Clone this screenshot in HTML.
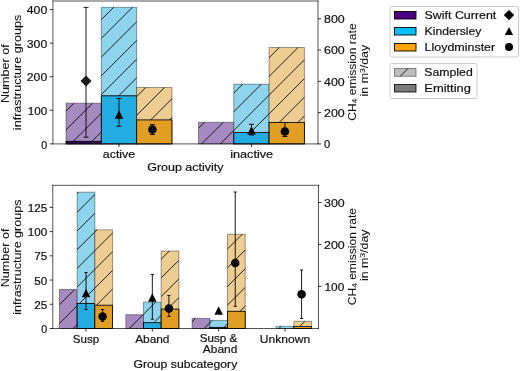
<!DOCTYPE html>
<html><head><meta charset="utf-8"><style>
html,body{margin:0;padding:0;background:#fff;}
svg{display:block;will-change:transform;}
text{font-family:"Liberation Sans",sans-serif;font-size:11.3px;fill:#111;stroke:#111;stroke-width:0.2px;}
text.r{stroke-width:0.05px;}
</style></head><body>
<svg width="520" height="371" viewBox="0 0 520 371">
<defs><clipPath id="c1"><rect x="66.05" y="103.20" width="35.30" height="40.70"/></clipPath><clipPath id="c2"><rect x="101.35" y="7.30" width="35.30" height="136.60"/></clipPath><clipPath id="c3"><rect x="136.65" y="87.50" width="35.30" height="56.40"/></clipPath><clipPath id="c4"><rect x="198.50" y="122.30" width="35.30" height="21.60"/></clipPath><clipPath id="c5"><rect x="233.80" y="84.20" width="35.30" height="59.70"/></clipPath><clipPath id="c6"><rect x="269.10" y="47.50" width="35.30" height="96.40"/></clipPath><clipPath id="c7"><rect x="59.47" y="289.50" width="17.69" height="39.00"/></clipPath><clipPath id="c8"><rect x="77.16" y="192.20" width="17.69" height="136.30"/></clipPath><clipPath id="c9"><rect x="94.84" y="229.80" width="17.69" height="98.70"/></clipPath><clipPath id="c10"><rect x="125.80" y="314.70" width="17.69" height="13.80"/></clipPath><clipPath id="c11"><rect x="143.49" y="302.20" width="17.69" height="26.30"/></clipPath><clipPath id="c12"><rect x="161.17" y="251.00" width="17.69" height="77.50"/></clipPath><clipPath id="c13"><rect x="192.13" y="318.40" width="17.69" height="10.10"/></clipPath><clipPath id="c14"><rect x="209.82" y="320.40" width="17.69" height="8.10"/></clipPath><clipPath id="c15"><rect x="227.50" y="234.30" width="17.69" height="94.20"/></clipPath><clipPath id="c16"><rect x="276.15" y="326.30" width="17.69" height="2.20"/></clipPath><clipPath id="c17"><rect x="293.83" y="321.30" width="17.69" height="7.20"/></clipPath><clipPath id="c18"><rect x="394.50" y="68.50" width="21.50" height="7.80"/></clipPath></defs>
<rect width="520" height="371" fill="#fff"/>
<rect x="66.05" y="103.20" width="35.30" height="40.70" fill="#a68bc0"/><path d="M30.23 146.90L76.93 100.20M48.94 146.90L95.64 100.20M67.65 146.90L114.35 100.20M86.36 146.90L133.06 100.20" stroke="#000" stroke-width="1.0" stroke-opacity="0.85" fill="none" clip-path="url(#c1)"/><rect x="66.05" y="103.20" width="35.30" height="40.70" fill="none" stroke="rgba(0,0,0,0.38)" stroke-width="1"/><rect x="66.05" y="141.30" width="35.30" height="2.60" fill="#3a0868" stroke="#000" stroke-width="0.85"/><rect x="101.35" y="7.30" width="35.30" height="136.60" fill="#8dd4ec"/><path d="M-25.90 146.90L116.70 4.30M-7.19 146.90L135.41 4.30M11.52 146.90L154.12 4.30M30.23 146.90L172.83 4.30M48.94 146.90L191.54 4.30M67.65 146.90L210.25 4.30M86.36 146.90L228.96 4.30M105.07 146.90L247.67 4.30M123.78 146.90L266.38 4.30" stroke="#000" stroke-width="1.0" stroke-opacity="0.85" fill="none" clip-path="url(#c2)"/><rect x="101.35" y="7.30" width="35.30" height="136.60" fill="none" stroke="rgba(0,0,0,0.38)" stroke-width="1"/><rect x="101.35" y="95.80" width="35.30" height="48.10" fill="#22acdf" stroke="#000" stroke-width="0.85"/><rect x="136.65" y="87.50" width="35.30" height="56.40" fill="#eecd93"/><path d="M86.36 146.90L148.76 84.50M105.07 146.90L167.47 84.50M123.78 146.90L186.18 84.50M142.49 146.90L204.89 84.50M161.20 146.90L223.60 84.50" stroke="#000" stroke-width="1.0" stroke-opacity="0.85" fill="none" clip-path="url(#c3)"/><rect x="136.65" y="87.50" width="35.30" height="56.40" fill="none" stroke="rgba(0,0,0,0.38)" stroke-width="1"/><rect x="136.65" y="119.90" width="35.30" height="24.00" fill="#e09f24" stroke="#000" stroke-width="0.85"/><rect x="198.50" y="122.30" width="35.30" height="21.60" fill="#a68bc0"/><path d="M179.91 146.90L207.51 119.30M198.62 146.90L226.22 119.30M217.33 146.90L244.93 119.30" stroke="#000" stroke-width="1.0" stroke-opacity="0.85" fill="none" clip-path="url(#c4)"/><rect x="198.50" y="122.30" width="35.30" height="21.60" fill="none" stroke="rgba(0,0,0,0.38)" stroke-width="1"/><rect x="233.80" y="84.20" width="35.30" height="59.70" fill="#8dd4ec"/><path d="M179.91 146.90L245.61 81.20M198.62 146.90L264.32 81.20M217.33 146.90L283.03 81.20M236.04 146.90L301.74 81.20M254.75 146.90L320.45 81.20" stroke="#000" stroke-width="1.0" stroke-opacity="0.85" fill="none" clip-path="url(#c5)"/><rect x="233.80" y="84.20" width="35.30" height="59.70" fill="none" stroke="rgba(0,0,0,0.38)" stroke-width="1"/><rect x="233.80" y="132.50" width="35.30" height="11.40" fill="#22acdf" stroke="#000" stroke-width="0.85"/><rect x="269.10" y="47.50" width="35.30" height="96.40" fill="#eecd93"/><path d="M179.91 146.90L282.31 44.50M198.62 146.90L301.02 44.50M217.33 146.90L319.73 44.50M236.04 146.90L338.44 44.50M254.75 146.90L357.15 44.50M273.46 146.90L375.86 44.50M292.17 146.90L394.57 44.50" stroke="#000" stroke-width="1.0" stroke-opacity="0.85" fill="none" clip-path="url(#c6)"/><rect x="269.10" y="47.50" width="35.30" height="96.40" fill="none" stroke="rgba(0,0,0,0.38)" stroke-width="1"/><rect x="269.10" y="122.40" width="35.30" height="21.50" fill="#e09f24" stroke="#000" stroke-width="0.85"/><line x1="86.00" y1="7.40" x2="86.00" y2="137.20" stroke="#000" stroke-width="0.9"/><line x1="83.50" y1="7.40" x2="88.50" y2="7.40" stroke="#000" stroke-width="0.9"/><line x1="83.50" y1="137.20" x2="88.50" y2="137.20" stroke="#000" stroke-width="0.9"/><path d="M86.00 75.50L91.50 81.00L86.00 86.50L80.50 81.00Z" fill="#1a1a1a"/><line x1="119.00" y1="98.50" x2="119.00" y2="126.30" stroke="#000" stroke-width="0.9"/><line x1="116.50" y1="98.50" x2="121.50" y2="98.50" stroke="#000" stroke-width="0.9"/><line x1="116.50" y1="126.30" x2="121.50" y2="126.30" stroke="#000" stroke-width="0.9"/><path d="M119.00 110.25L123.25 118.75L114.75 118.75Z" fill="#000"/><line x1="152.40" y1="124.50" x2="152.40" y2="134.50" stroke="#000" stroke-width="0.9"/><line x1="149.90" y1="124.50" x2="154.90" y2="124.50" stroke="#000" stroke-width="0.9"/><line x1="149.90" y1="134.50" x2="154.90" y2="134.50" stroke="#000" stroke-width="0.9"/><circle cx="152.40" cy="129.50" r="4.25" fill="#000"/><line x1="251.50" y1="124.30" x2="251.50" y2="135.00" stroke="#000" stroke-width="0.9"/><line x1="249.00" y1="124.30" x2="254.00" y2="124.30" stroke="#000" stroke-width="0.9"/><line x1="249.00" y1="135.00" x2="254.00" y2="135.00" stroke="#000" stroke-width="0.9"/><path d="M251.50 126.05L255.75 134.55L247.25 134.55Z" fill="#000"/><line x1="284.90" y1="122.50" x2="284.90" y2="136.50" stroke="#000" stroke-width="0.9"/><line x1="282.40" y1="122.50" x2="287.40" y2="122.50" stroke="#000" stroke-width="0.9"/><line x1="282.40" y1="136.50" x2="287.40" y2="136.50" stroke="#000" stroke-width="0.9"/><circle cx="284.90" cy="131.50" r="4.25" fill="#000"/><path d="M52.90 0.60V144.30M318.00 0.60V144.30M52.50 1.00H318.40M52.50 143.90H318.40" stroke="#000" stroke-opacity="0.85" stroke-width="0.8" fill="none"/><line x1="49.90" y1="143.90" x2="52.90" y2="143.90" stroke="#000" stroke-width="0.8"/><text x="41.30" y="148.50" textLength="5.91" lengthAdjust="spacingAndGlyphs">0</text><line x1="49.90" y1="110.30" x2="52.90" y2="110.30" stroke="#000" stroke-width="0.8"/><text x="27.70" y="114.90" textLength="19.48" lengthAdjust="spacingAndGlyphs">100</text><line x1="49.90" y1="76.70" x2="52.90" y2="76.70" stroke="#000" stroke-width="0.8"/><text x="26.80" y="81.30" textLength="20.38" lengthAdjust="spacingAndGlyphs">200</text><line x1="49.90" y1="43.10" x2="52.90" y2="43.10" stroke="#000" stroke-width="0.8"/><text x="26.80" y="47.70" textLength="20.38" lengthAdjust="spacingAndGlyphs">300</text><line x1="49.90" y1="9.50" x2="52.90" y2="9.50" stroke="#000" stroke-width="0.8"/><text x="26.80" y="14.10" textLength="20.38" lengthAdjust="spacingAndGlyphs">400</text><line x1="318.00" y1="143.90" x2="321.00" y2="143.90" stroke="#000" stroke-width="0.8"/><text x="324.10" y="148.10" textLength="6.21" lengthAdjust="spacingAndGlyphs">0</text><line x1="318.00" y1="112.61" x2="321.00" y2="112.61" stroke="#000" stroke-width="0.8"/><text x="324.10" y="116.81" textLength="20.68" lengthAdjust="spacingAndGlyphs">200</text><line x1="318.00" y1="81.33" x2="321.00" y2="81.33" stroke="#000" stroke-width="0.8"/><text x="324.10" y="85.53" textLength="20.68" lengthAdjust="spacingAndGlyphs">400</text><line x1="318.00" y1="50.04" x2="321.00" y2="50.04" stroke="#000" stroke-width="0.8"/><text x="324.10" y="54.24" textLength="20.68" lengthAdjust="spacingAndGlyphs">600</text><line x1="318.00" y1="18.75" x2="321.00" y2="18.75" stroke="#000" stroke-width="0.8"/><text x="324.10" y="22.95" textLength="20.68" lengthAdjust="spacingAndGlyphs">800</text><line x1="119.00" y1="143.90" x2="119.00" y2="146.90" stroke="#000" stroke-width="0.8"/><line x1="251.45" y1="143.90" x2="251.45" y2="146.90" stroke="#000" stroke-width="0.8"/><text x="119.00" y="157.80" text-anchor="middle" textLength="32.23" lengthAdjust="spacingAndGlyphs">active</text><text x="251.65" y="157.80" text-anchor="middle" textLength="43.01" lengthAdjust="spacingAndGlyphs">inactive</text><text x="185.30" y="171.20" text-anchor="middle" textLength="76.18" lengthAdjust="spacingAndGlyphs">Group activity</text><text transform="translate(8.50,73.60) rotate(-90)" class="r" x="0" y="0" text-anchor="middle" textLength="58.78" lengthAdjust="spacingAndGlyphs">Number of</text><text transform="translate(21.00,72.50) rotate(-90)" class="r" x="0" y="0" text-anchor="middle" textLength="115.31" lengthAdjust="spacingAndGlyphs">infrastructure groups</text><text transform="translate(355.80,72.05) rotate(-90)" class="r" text-anchor="middle" textLength="97.4" lengthAdjust="spacingAndGlyphs">CH<tspan font-size="7.8" dy="1.6">4</tspan><tspan dy="-1.6"> emission rate</tspan></text><text transform="translate(368.40,70.65) rotate(-90)" class="r" text-anchor="middle" textLength="51.6" lengthAdjust="spacingAndGlyphs">in m<tspan font-size="7.8" dy="-3.6">3</tspan><tspan dy="3.6">/day</tspan></text><rect x="59.47" y="289.50" width="17.69" height="39.00" fill="#a68bc0"/><path d="M32.73 331.50L77.73 286.50M51.44 331.50L96.44 286.50M70.15 331.50L115.15 286.50" stroke="#000" stroke-width="1.0" stroke-opacity="0.85" fill="none" clip-path="url(#c7)"/><rect x="59.47" y="289.50" width="17.69" height="39.00" fill="none" stroke="rgba(0,0,0,0.38)" stroke-width="1"/><rect x="77.16" y="192.20" width="17.69" height="136.30" fill="#8dd4ec"/><path d="M-60.82 331.50L81.48 189.20M-42.11 331.50L100.19 189.20M-23.40 331.50L118.90 189.20M-4.69 331.50L137.61 189.20M14.02 331.50L156.32 189.20M32.73 331.50L175.03 189.20M51.44 331.50L193.74 189.20M70.15 331.50L212.45 189.20M88.86 331.50L231.16 189.20" stroke="#000" stroke-width="1.0" stroke-opacity="0.85" fill="none" clip-path="url(#c8)"/><rect x="77.16" y="192.20" width="17.69" height="136.30" fill="none" stroke="rgba(0,0,0,0.38)" stroke-width="1"/><rect x="77.16" y="303.40" width="17.69" height="25.10" fill="#22acdf" stroke="#000" stroke-width="0.85"/><rect x="94.84" y="229.80" width="17.69" height="98.70" fill="#eecd93"/><path d="M-4.69 331.50L100.01 226.80M14.02 331.50L118.72 226.80M32.73 331.50L137.43 226.80M51.44 331.50L156.14 226.80M70.15 331.50L174.85 226.80M88.86 331.50L193.56 226.80M107.57 331.50L212.27 226.80" stroke="#000" stroke-width="1.0" stroke-opacity="0.85" fill="none" clip-path="url(#c9)"/><rect x="94.84" y="229.80" width="17.69" height="98.70" fill="none" stroke="rgba(0,0,0,0.38)" stroke-width="1"/><rect x="94.84" y="305.20" width="17.69" height="23.30" fill="#e09f24" stroke="#000" stroke-width="0.85"/><rect x="125.80" y="314.70" width="17.69" height="13.80" fill="#a68bc0"/><path d="M107.57 331.50L127.37 311.70M126.28 331.50L146.08 311.70" stroke="#000" stroke-width="1.0" stroke-opacity="0.85" fill="none" clip-path="url(#c10)"/><rect x="125.80" y="314.70" width="17.69" height="13.80" fill="none" stroke="rgba(0,0,0,0.38)" stroke-width="1"/><rect x="143.49" y="302.20" width="17.69" height="26.30" fill="#8dd4ec"/><path d="M126.28 331.50L158.58 299.20M144.99 331.50L177.29 299.20" stroke="#000" stroke-width="1.0" stroke-opacity="0.85" fill="none" clip-path="url(#c11)"/><rect x="143.49" y="302.20" width="17.69" height="26.30" fill="none" stroke="rgba(0,0,0,0.38)" stroke-width="1"/><rect x="143.49" y="322.70" width="17.69" height="5.80" fill="#22acdf" stroke="#000" stroke-width="0.85"/><rect x="161.17" y="251.00" width="17.69" height="77.50" fill="#eecd93"/><path d="M88.86 331.50L172.36 248.00M107.57 331.50L191.07 248.00M126.28 331.50L209.78 248.00M144.99 331.50L228.49 248.00M163.70 331.50L247.20 248.00" stroke="#000" stroke-width="1.0" stroke-opacity="0.85" fill="none" clip-path="url(#c12)"/><rect x="161.17" y="251.00" width="17.69" height="77.50" fill="none" stroke="rgba(0,0,0,0.38)" stroke-width="1"/><rect x="161.17" y="309.10" width="17.69" height="19.40" fill="#e09f24" stroke="#000" stroke-width="0.85"/><rect x="192.13" y="318.40" width="17.69" height="10.10" fill="#a68bc0"/><path d="M182.41 331.50L198.51 315.40M201.12 331.50L217.22 315.40" stroke="#000" stroke-width="1.0" stroke-opacity="0.85" fill="none" clip-path="url(#c13)"/><rect x="192.13" y="318.40" width="17.69" height="10.10" fill="none" stroke="rgba(0,0,0,0.38)" stroke-width="1"/><rect x="209.82" y="320.40" width="17.69" height="8.10" fill="#8dd4ec"/><path d="M201.12 331.50L215.22 317.40M219.83 331.50L233.93 317.40" stroke="#000" stroke-width="1.0" stroke-opacity="0.85" fill="none" clip-path="url(#c14)"/><rect x="209.82" y="320.40" width="17.69" height="8.10" fill="none" stroke="rgba(0,0,0,0.38)" stroke-width="1"/><rect x="209.82" y="327.40" width="17.69" height="1.10" fill="#22acdf" stroke="#000" stroke-width="0.85"/><rect x="227.50" y="234.30" width="17.69" height="94.20" fill="#eecd93"/><path d="M144.99 331.50L245.19 231.30M163.70 331.50L263.90 231.30M182.41 331.50L282.61 231.30M201.12 331.50L301.32 231.30M219.83 331.50L320.03 231.30M238.54 331.50L338.74 231.30" stroke="#000" stroke-width="1.0" stroke-opacity="0.85" fill="none" clip-path="url(#c15)"/><rect x="227.50" y="234.30" width="17.69" height="94.20" fill="none" stroke="rgba(0,0,0,0.38)" stroke-width="1"/><rect x="227.50" y="311.30" width="17.69" height="17.20" fill="#e09f24" stroke="#000" stroke-width="0.85"/><rect x="276.15" y="326.30" width="17.69" height="2.20" fill="#8dd4ec"/><path d="M275.96 331.50L284.16 323.30" stroke="#000" stroke-width="1.0" stroke-opacity="0.85" fill="none" clip-path="url(#c16)"/><rect x="276.15" y="326.30" width="17.69" height="2.20" fill="none" stroke="rgba(0,0,0,0.38)" stroke-width="1"/><rect x="293.83" y="321.30" width="17.69" height="7.20" fill="#eecd93"/><path d="M294.67 331.50L307.87 318.30" stroke="#000" stroke-width="1.0" stroke-opacity="0.85" fill="none" clip-path="url(#c17)"/><rect x="293.83" y="321.30" width="17.69" height="7.20" fill="none" stroke="rgba(0,0,0,0.38)" stroke-width="1"/><rect x="293.83" y="326.50" width="17.69" height="2.00" fill="#e09f24" stroke="#000" stroke-width="0.85"/><line x1="86.00" y1="272.50" x2="86.00" y2="309.50" stroke="#000" stroke-width="0.9"/><line x1="84.40" y1="272.50" x2="87.60" y2="272.50" stroke="#000" stroke-width="0.9"/><line x1="84.40" y1="309.50" x2="87.60" y2="309.50" stroke="#000" stroke-width="0.9"/><path d="M86.00 288.65L90.25 297.15L81.75 297.15Z" fill="#000"/><line x1="102.58" y1="309.50" x2="102.58" y2="321.50" stroke="#000" stroke-width="0.9"/><line x1="100.98" y1="309.50" x2="104.18" y2="309.50" stroke="#000" stroke-width="0.9"/><line x1="100.98" y1="321.50" x2="104.18" y2="321.50" stroke="#000" stroke-width="0.9"/><circle cx="102.58" cy="316.50" r="4.25" fill="#000"/><line x1="152.33" y1="274.50" x2="152.33" y2="319.20" stroke="#000" stroke-width="0.9"/><line x1="150.73" y1="274.50" x2="153.93" y2="274.50" stroke="#000" stroke-width="0.9"/><line x1="150.73" y1="319.20" x2="153.93" y2="319.20" stroke="#000" stroke-width="0.9"/><path d="M152.33 293.25L156.58 301.75L148.08 301.75Z" fill="#000"/><line x1="168.91" y1="295.50" x2="168.91" y2="316.50" stroke="#000" stroke-width="0.9"/><line x1="167.31" y1="295.50" x2="170.51" y2="295.50" stroke="#000" stroke-width="0.9"/><line x1="167.31" y1="316.50" x2="170.51" y2="316.50" stroke="#000" stroke-width="0.9"/><circle cx="168.91" cy="308.40" r="4.25" fill="#000"/><path d="M218.66 306.35L222.91 314.85L214.41 314.85Z" fill="#000"/><line x1="235.24" y1="192.00" x2="235.24" y2="306.30" stroke="#000" stroke-width="0.9"/><line x1="233.64" y1="192.00" x2="236.84" y2="192.00" stroke="#000" stroke-width="0.9"/><line x1="233.64" y1="306.30" x2="236.84" y2="306.30" stroke="#000" stroke-width="0.9"/><circle cx="235.24" cy="263.00" r="4.25" fill="#000"/><line x1="301.57" y1="270.00" x2="301.57" y2="318.50" stroke="#000" stroke-width="0.9"/><line x1="299.97" y1="270.00" x2="303.17" y2="270.00" stroke="#000" stroke-width="0.9"/><line x1="299.97" y1="318.50" x2="303.17" y2="318.50" stroke="#000" stroke-width="0.9"/><circle cx="301.57" cy="294.30" r="4.25" fill="#000"/><path d="M52.75 184.90V328.90M318.50 184.90V328.90M52.35 185.30H318.90M52.35 328.50H318.90" stroke="#000" stroke-opacity="0.85" stroke-width="0.8" fill="none"/><line x1="49.75" y1="328.50" x2="52.75" y2="328.50" stroke="#000" stroke-width="0.8"/><text x="41.30" y="333.10" textLength="5.91" lengthAdjust="spacingAndGlyphs">0</text><line x1="49.75" y1="304.28" x2="52.75" y2="304.28" stroke="#000" stroke-width="0.8"/><text x="34.20" y="308.88" textLength="13.03" lengthAdjust="spacingAndGlyphs">25</text><line x1="49.75" y1="280.06" x2="52.75" y2="280.06" stroke="#000" stroke-width="0.8"/><text x="34.20" y="284.66" textLength="13.03" lengthAdjust="spacingAndGlyphs">50</text><line x1="49.75" y1="255.84" x2="52.75" y2="255.84" stroke="#000" stroke-width="0.8"/><text x="34.20" y="260.44" textLength="13.03" lengthAdjust="spacingAndGlyphs">75</text><line x1="49.75" y1="231.62" x2="52.75" y2="231.62" stroke="#000" stroke-width="0.8"/><text x="27.70" y="236.22" textLength="19.48" lengthAdjust="spacingAndGlyphs">100</text><line x1="49.75" y1="207.40" x2="52.75" y2="207.40" stroke="#000" stroke-width="0.8"/><text x="27.70" y="212.00" textLength="19.48" lengthAdjust="spacingAndGlyphs">125</text><line x1="318.50" y1="286.40" x2="321.50" y2="286.40" stroke="#000" stroke-width="0.8"/><text x="324.50" y="290.60" textLength="19.78" lengthAdjust="spacingAndGlyphs">100</text><line x1="318.50" y1="244.45" x2="321.50" y2="244.45" stroke="#000" stroke-width="0.8"/><text x="324.10" y="248.65" textLength="20.68" lengthAdjust="spacingAndGlyphs">200</text><line x1="318.50" y1="202.50" x2="321.50" y2="202.50" stroke="#000" stroke-width="0.8"/><text x="324.10" y="206.70" textLength="20.68" lengthAdjust="spacingAndGlyphs">300</text><line x1="86.00" y1="328.50" x2="86.00" y2="331.50" stroke="#000" stroke-width="0.8"/><line x1="152.33" y1="328.50" x2="152.33" y2="331.50" stroke="#000" stroke-width="0.8"/><line x1="218.66" y1="328.50" x2="218.66" y2="331.50" stroke="#000" stroke-width="0.8"/><line x1="284.99" y1="328.50" x2="284.99" y2="331.50" stroke="#000" stroke-width="0.8"/><text x="86.00" y="342.50" text-anchor="middle" textLength="26.29" lengthAdjust="spacingAndGlyphs">Susp</text><text x="152.33" y="342.50" text-anchor="middle" textLength="34.32" lengthAdjust="spacingAndGlyphs">Aband</text><text x="218.55" y="341.60" text-anchor="middle" textLength="37.49" lengthAdjust="spacingAndGlyphs">Susp &amp;</text><text x="220.10" y="353.40" text-anchor="middle" textLength="34.42" lengthAdjust="spacingAndGlyphs">Aband</text><text x="284.99" y="342.50" text-anchor="middle" textLength="50.29" lengthAdjust="spacingAndGlyphs">Unknown</text><text x="185.40" y="368.00" text-anchor="middle" textLength="103.80" lengthAdjust="spacingAndGlyphs">Group subcategory</text><text transform="translate(8.50,257.90) rotate(-90)" class="r" x="0" y="0" text-anchor="middle" textLength="58.78" lengthAdjust="spacingAndGlyphs">Number of</text><text transform="translate(21.00,257.10) rotate(-90)" class="r" x="0" y="0" text-anchor="middle" textLength="115.31" lengthAdjust="spacingAndGlyphs">infrastructure groups</text><text transform="translate(355.80,256.65) rotate(-90)" class="r" text-anchor="middle" textLength="97.4" lengthAdjust="spacingAndGlyphs">CH<tspan font-size="7.8" dy="1.6">4</tspan><tspan dy="-1.6"> emission rate</tspan></text><text transform="translate(368.40,255.25) rotate(-90)" class="r" text-anchor="middle" textLength="51.6" lengthAdjust="spacingAndGlyphs">in m<tspan font-size="7.8" dy="-3.6">3</tspan><tspan dy="3.6">/day</tspan></text><rect x="390.0" y="6.5" width="128.5" height="50.5" rx="2" fill="#fff" stroke="#cccccc" stroke-width="1"/><rect x="394.5" y="11.5" width="21.5" height="7.5" fill="#4b0082" stroke="#000" stroke-width="0.9"/><text x="424.60" y="19.20" text-anchor="start" textLength="71.69" lengthAdjust="spacingAndGlyphs">Swift Current</text><rect x="394.5" y="27.5" width="21.5" height="7.5" fill="#00bfff" stroke="#000" stroke-width="0.9"/><text x="424.60" y="35.20" text-anchor="start" textLength="56.69" lengthAdjust="spacingAndGlyphs">Kindersley</text><rect x="394.5" y="43.5" width="21.5" height="7.5" fill="#ffa500" stroke="#000" stroke-width="0.9"/><text x="424.60" y="51.20" text-anchor="start" textLength="70.59" lengthAdjust="spacingAndGlyphs">Lloydminster</text><path d="M509.00 9.90L514.20 15.10L509.00 20.30L503.80 15.10Z" fill="#000"/><path d="M509.00 26.90L513.10 35.10L504.90 35.10Z" fill="#000"/><circle cx="509.00" cy="47.00" r="4.00" fill="#000"/><rect x="390.0" y="63.5" width="87.0" height="35.0" rx="2" fill="#fff" stroke="#cccccc" stroke-width="1"/><rect x="394.5" y="68.5" width="21.5" height="7.8" fill="#bdbdbd"/><path d="M397.19 79.30L410.99 65.50" stroke="#000" stroke-width="1.0" stroke-opacity="0.85" fill="none" clip-path="url(#c18)"/><rect x="394.5" y="68.5" width="21.5" height="7.8" fill="none" stroke="rgba(0,0,0,0.42)" stroke-width="1"/><rect x="394.5" y="84.5" width="21.5" height="7.5" fill="#7a7a7a" stroke="#000" stroke-width="0.8"/><text x="424.30" y="76.10" text-anchor="start" textLength="48.42" lengthAdjust="spacingAndGlyphs">Sampled</text><text x="424.30" y="92.00" text-anchor="start" textLength="46.63" lengthAdjust="spacingAndGlyphs">Emitting</text>
</svg></body></html>
